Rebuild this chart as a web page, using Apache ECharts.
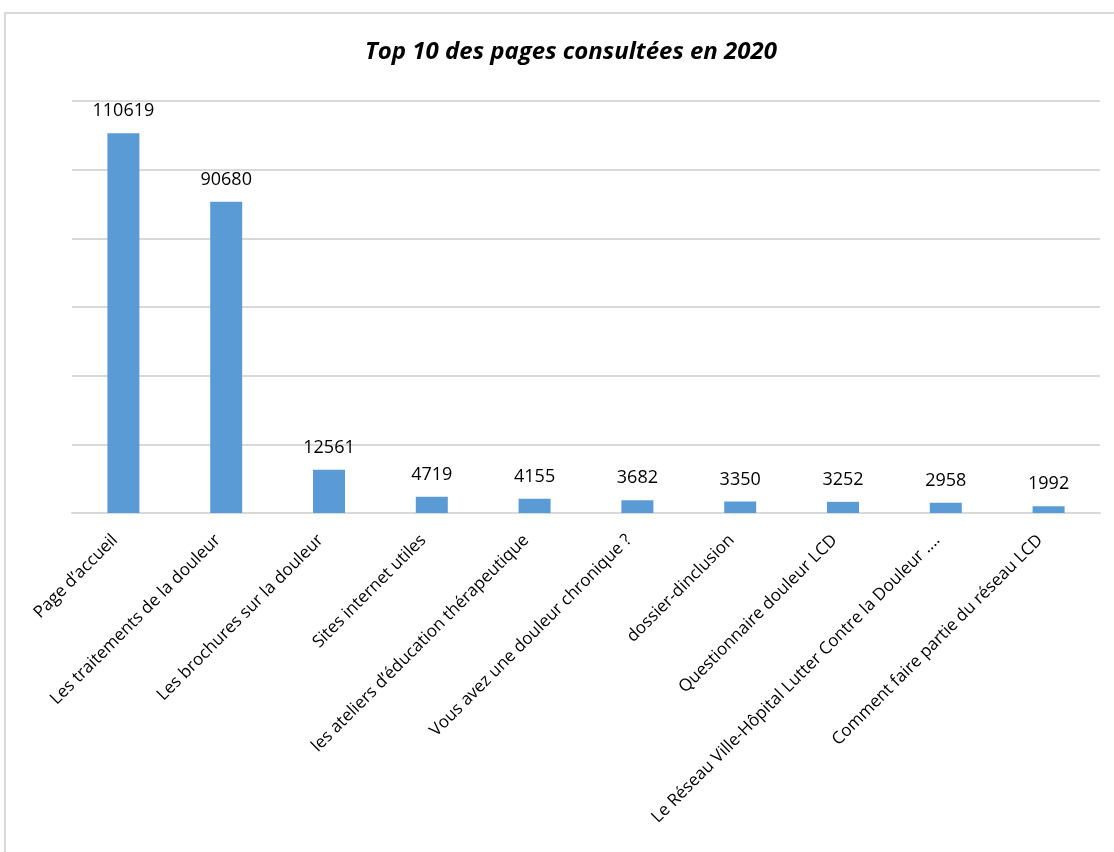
<!DOCTYPE html>
<html>
<head>
<meta charset="utf-8">
<script src="https://cdn.jsdelivr.net/npm/echarts@6/dist/echarts.min.js"></script>
<style>
  html, body { margin: 0; padding: 0; background: #fff; overflow: hidden; }
  #frame { position: absolute; left: 4px; top: 12px; width: 1200px; height: 1000px; border: 2px solid #d9d9d9; }
  #chart { position: absolute; left: 0; top: 0; width: 1114px; height: 852px; }
</style>
</head>
<body>
<div id="frame"></div>
<div id="chart"></div>
<script>
var pages = [
  'Page d\u2019accueil',
  'Les traitements de la douleur',
  'Les brochures sur la douleur',
  'Sites internet utiles',
  'les ateliers d\u2019\u00e9ducation th\u00e9rapeutique',
  'Vous avez une douleur chronique ?',
  'dossier-dinclusion',
  'Questionnaire douleur LCD',
  'Le R\u00e9seau Ville-H\u00f4pital Lutter Contre la Douleur ....',
  'Comment faire partie du r\u00e9seau LCD'
]
var vues = [110619, 90680, 12561, 4719, 4155, 3682, 3350, 3252, 2958, 1992]

var myChart = echarts.init(document.getElementById('chart'))

var option = {
  animation: false,
  title: {
    text: 'Top 10 des pages consult\u00e9es en 2020',
    left: 566,
    top: 35,
    textAlign: 'center',
    textStyle: {
      fontFamily: 'Open Sans',
      fontStyle: 'italic',
      fontWeight: 'bold',
      fontSize: 24,
      color: '#000'
    }
  },
  grid: {
    left: 72,
    right: 14,
    top: 101,
    bottom: 339
  },
  xAxis: {
    type: 'category',
    data: pages,
    axisTick: { show: false },
    axisLine: { lineStyle: { color: '#d9d9d9', width: 2 } },
    axisLabel: {
      rotate: 45,
      interval: 0,
      margin: 16,
      padding: [0, 12, 0, 0],
      fontFamily: 'Open Sans',
      fontSize: 17,
      color: '#000'
    }
  },
  yAxis: {
    type: 'value',
    min: 0,
    max: 120000,
    interval: 20000,
    axisLabel: { show: false },
    axisLine: { show: false },
    axisTick: { show: false },
    splitLine: { lineStyle: { color: '#d9d9d9', width: 2 } }
  },
  series: [
    {
      type: 'bar',
      data: vues,
      barWidth: 32,
      itemStyle: { color: '#5b9bd5' },
      label: {
        show: true,
        position: 'top',
        distance: 13,
        fontFamily: 'Open Sans',
        fontSize: 18,
        color: '#000'
      }
    }
  ]
}

myChart.setOption(option)
</script>
</body>
</html>
